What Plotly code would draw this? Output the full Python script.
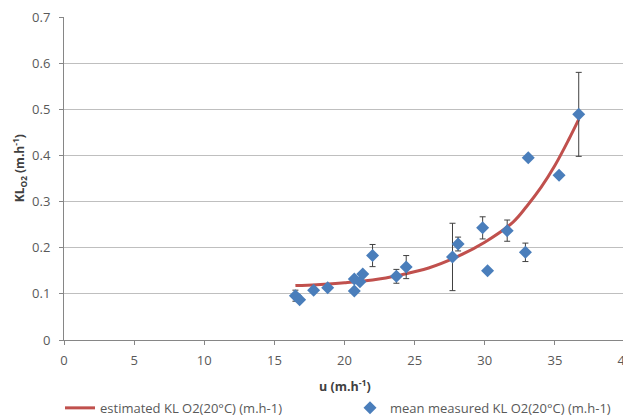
import plotly.graph_objects as go

# measured points
u_meas = [16.5, 16.8, 17.8, 18.8, 20.7, 20.7, 21.1, 21.3, 22.0, 23.7, 24.4, 27.7, 28.1, 29.85, 30.2, 31.6, 32.9, 33.1, 35.3, 36.7]
kl_meas = [0.096, 0.087, 0.108, 0.113, 0.106, 0.132, 0.126, 0.143, 0.183, 0.138, 0.158, 0.180, 0.208, 0.243, 0.150, 0.237, 0.190, 0.395, 0.357, 0.489]
kl_err = [0.012, 0.0, 0.0, 0.0, 0.0, 0.0, 0.0, 0.0, 0.024, 0.015, 0.025, 0.073, 0.015, 0.024, 0.0, 0.023, 0.02, 0.0, 0.0, 0.091]

# estimated curve
u_est = [16.5, 18, 20, 22, 24, 26, 28, 30, 32, 33, 34, 35, 36, 36.7]
kl_est = [0.118, 0.120, 0.124, 0.130, 0.141, 0.156, 0.180, 0.212, 0.255, 0.290, 0.330, 0.378, 0.435, 0.478]

x_ticks = [0, 5, 10, 15, 20, 25, 30, 35, 40]
y_ticks = [0, 0.1, 0.2, 0.3, 0.4, 0.5, 0.6, 0.7]

FONT = "Open Sans"
TXT = "#595959"

fig = go.Figure()
fig.add_trace(go.Scatter(
    x=u_est, y=kl_est, mode="lines", line=dict(color="#C0504D", width=3, shape="spline"),
    name="estimated KL O2(20°C) (m.h-1)", legend="legend", showlegend=True))
fig.add_trace(go.Scatter(
    x=u_meas, y=kl_meas, mode="markers",
    marker=dict(symbol="diamond", size=10, color="#4A7EBB"),
    error_y=dict(type="data", array=kl_err, visible=True, color="#404040", thickness=1, width=3),
    name="mean measured KL O2(20°C) (m.h-1)", legend="legend2", showlegend=True))

fig.update_layout(
    width=623, height=411,
    margin=dict(l=56, r=6, t=9, b=79, autoexpand=False),
    paper_bgcolor="white", plot_bgcolor="white",
    showlegend=True,
    font=dict(family=FONT, size=12, color=TXT),
    xaxis=dict(range=[0, 40], tickvals=x_ticks, showgrid=False, showline=True, linecolor="#868686",
               ticks="outside", ticklen=4, tickcolor="#868686", zeroline=False, automargin=False,
               ticklabeloverflow="allow", ticklabelstandoff=4, tickfont=dict(size=13)),
    yaxis=dict(range=[0, 0.7], tickvals=y_ticks, ticktext=[str(v) for v in y_ticks],
               showgrid=True, gridcolor="#BFBFBF", gridwidth=1, automargin=False,
               showline=True, linecolor="#868686", ticks="outside", ticklen=4, tickcolor="#868686",
               zeroline=False, ticklabeloverflow="allow", ticklabelstandoff=6, tickfont=dict(size=13)),
    legend=dict(orientation="h", xref="container", yref="container", x=0.0835, xanchor="left",
                y=0.027, yanchor="middle",
                font=dict(size=13, color=TXT), bgcolor="rgba(0,0,0,0)"),
    legend2=dict(orientation="h", xref="container", yref="container", x=0.549, xanchor="left",
                 y=0.027, yanchor="middle",
                 font=dict(size=13, color=TXT), bgcolor="rgba(0,0,0,0)"),
    annotations=[
        dict(text="<b>u (m.h<sup>-1</sup>)</b>", x=0.5, y=-0.142, xref="paper", yref="paper",
             xanchor="center", yanchor="middle", showarrow=False, font=dict(size=12.5, color="#404040")),
        dict(text="<b>KL<sub>O2</sub> (m.h<sup>-1</sup>)</b>", x=-0.08, y=0.532, xref="paper", yref="paper",
             xanchor="center", yanchor="middle", textangle=-90, showarrow=False,
             font=dict(size=12, color="#404040")),
    ],
)

fig.write_html("out.html")
